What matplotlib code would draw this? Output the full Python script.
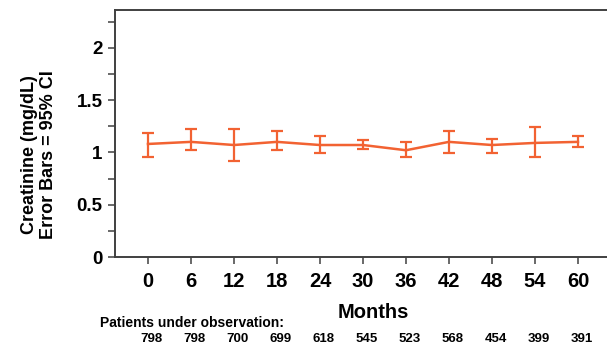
import matplotlib
matplotlib.use("Agg")
import matplotlib.pyplot as plt
from matplotlib.ticker import MultipleLocator
import matplotlib.transforms as mtransforms
import numpy as np

months = [0, 6, 12, 18, 24, 30, 36, 42, 48, 54, 60]
creatinine = [1.08, 1.10, 1.07, 1.10, 1.07, 1.07, 1.02, 1.10, 1.07, 1.09, 1.10]
ci_upper = [1.18, 1.22, 1.22, 1.20, 1.16, 1.12, 1.10, 1.20, 1.13, 1.24, 1.155]
ci_lower = [0.96, 1.02, 0.92, 1.02, 0.99, 1.03, 0.96, 0.99, 0.99, 0.96, 1.055]
patients = [798, 798, 700, 699, 618, 545, 523, 568, 454, 399, 391]
ytick_vals = [0, 0.5, 1, 1.5, 2]
ytick_labels = ["0", "0.5", "1", "1.5", "2"]

plt.rcParams['font.family'] = ['Liberation Sans', 'DejaVu Sans']

fig = plt.figure(figsize=(6.07, 3.45), dpi=100)
ax = fig.add_axes([115/607, 1 - 257/345, 1 - 115/607 + 0.01, (257 - 10)/345])

color = '#F26232'
y = np.array(creatinine)
lo = y - np.array(ci_lower)
hi = np.array(ci_upper) - y
ax.errorbar(months, creatinine, yerr=[lo, hi], color=color, lw=1.8,
            capsize=4.5, capthick=1.6, elinewidth=1.6, clip_on=False)

ax.set_xlim(-4.6, 64.9)
ax.set_ylim(0, 2.36)
ax.set_xticks(months)
ax.set_xticklabels([str(m) for m in months])
ax.set_yticks(ytick_vals)
ax.set_yticklabels(ytick_labels)
ax.yaxis.set_minor_locator(MultipleLocator(0.25))

for s in ['left', 'bottom', 'top']:
    ax.spines[s].set_color('#404040')
    ax.spines[s].set_linewidth(1.4)
ax.spines['right'].set_visible(False)

ax.tick_params(axis='y', which='both', direction='out', length=5, width=1.1,
               color='#404040', labelsize=13.5, pad=4)
ax.tick_params(axis='x', which='both', direction='out', length=5, width=1.1,
               color='#404040', labelsize=14.5, pad=6)
for lab in ax.get_xticklabels() + ax.get_yticklabels():
    lab.set_fontweight('bold')

fig.text(39/607, 1 - 155/345, "Creatinine (mg/dL)\nError Bars = 95% CI",
         rotation=90, ha='center', va='center', fontsize=13,
         fontweight='bold', multialignment='center', linespacing=1.15)

fig.text(373/607, 1 - 312/345, "Months", ha='center', va='center',
         fontsize=14.5, fontweight='bold')

fig.text(100/607, 1 - 323/345, "Patients under observation:", ha='left',
         va='center', fontsize=10, fontweight='bold')

trans = mtransforms.blended_transform_factory(ax.transData, fig.transFigure)
for m, p in zip(months, patients):
    fig.text(m + 0.5, 1 - 339/345, str(p), transform=trans, ha='center',
             va='center', fontsize=9.5, fontweight='bold')

fig.savefig("out.png", dpi=100)
